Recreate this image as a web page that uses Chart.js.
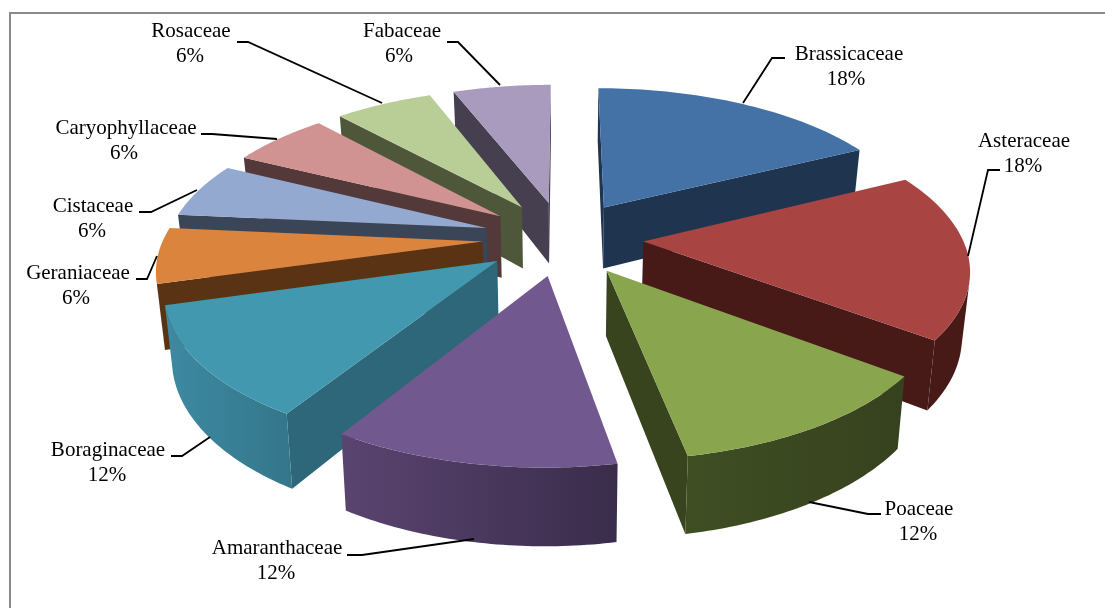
<!DOCTYPE html>
<html>
<head>
<meta charset="utf-8">
<style>
  html, body { margin: 0; padding: 0; background: #fff; }
  canvas { display: block; }
</style>
<script src="https://cdn.jsdelivr.net/npm/chart.js@4/dist/chart.umd.min.js"></script>
</head>
<body>
<canvas id="pieChart" width="1105" height="608"></canvas>
<script>
const families = ['Brassicaceae', 'Asteraceae', 'Poaceae', 'Amaranthaceae', 'Boraginaceae', 'Geraniaceae', 'Cistaceae', 'Caryophyllaceae', 'Rosaceae', 'Fabaceae'];
const counts = [3, 3, 2, 2, 2, 1, 1, 1, 1, 1];
const percents = ['18%', '18%', '12%', '12%', '12%', '6%', '6%', '6%', '6%', '6%'];

const topColors = ['#4472a7', '#a84543', '#89a54e', '#71588f', '#4198af', '#db843d', '#93a9cf', '#d19392', '#b9cd96', '#a99bbd'];
const sideColors = ['#1f344f', '#471a18', '#38441e', '#3f3052', '#2d6779', '#5a3315', '#3a4558', '#54393a', '#4f573b', '#453f50'];
const rimLight = ['#1f344f', '#471a18', '#3f4e23', '#5a4470', '#3d8aa2', '#5a3315', '#3a4558', '#54393a', '#4f573b', '#453f50'];
const rimDark = ['#1f344f', '#471a18', '#36421e', '#3a2c4b', '#34768a', '#5a3315', '#3a4558', '#54393a', '#4f573b', '#453f50'];

// text centre x for name and percent, name baseline y, then the leader line
const labelSpots = [
  { nameX: 849, pctX: 846, y: 60, line: [[785, 58], [772, 58], [743, 103]] },
  { nameX: 1024, pctX: 1023, y: 147, line: [[1000, 170], [988, 170], [968, 256]] },
  { nameX: 919, pctX: 918, y: 515, line: [[881, 514], [868, 514], [809, 502]] },
  { nameX: 277, pctX: 276, y: 554, line: [[347, 555], [362, 555], [474, 539]] },
  { nameX: 108, pctX: 107, y: 456, line: [[171, 456], [182, 456], [210, 437]] },
  { nameX: 78, pctX: 76, y: 279, line: [[136, 279], [147, 279], [157, 256]] },
  { nameX: 93, pctX: 92, y: 212, line: [[139, 212], [151, 212], [197, 190]] },
  { nameX: 126, pctX: 124, y: 134, line: [[201, 134], [212, 134], [277, 139]] },
  { nameX: 191, pctX: 190, y: 37, line: [[237, 42], [248, 42], [382, 103]] },
  { nameX: 402, pctX: 399, y: 37, line: [[447, 42], [458, 42], [500, 85]] }
];

// fake 3d view of the flat pie
const view = { cx: 563, cy: 238, radius: 319, squash: 0.4617, distance: 1994, depth: 63, shrink: 0.98 };

function project(u, v, isTop) {
  const s = view.distance / (view.distance - v);
  const xs = isTop ? s : s * view.shrink;
  return [view.cx + u * xs, view.cy + view.squash * v * s + (isTop ? 0 : view.depth * s)];
}

function polyArea(pts) {
  let a = 0;
  pts.forEach((p, i) => {
    const q = pts[(i + 1) % pts.length];
    a += p[0] * q[1] - q[0] * p[1];
  });
  return a / 2;
}

function fillPoly(ctx, pts, color) {
  ctx.beginPath();
  pts.forEach((p, i) => (i ? ctx.lineTo(p[0], p[1]) : ctx.moveTo(p[0], p[1])));
  ctx.closePath();
  ctx.fillStyle = color;
  ctx.fill();
}

class Arc3D extends Chart.ArcElement {
  static id = 'arc3d';

  draw(ctx) {
    const { startAngle, endAngle, outerRadius } = this.getProps(['startAngle', 'endAngle', 'outerRadius']);
    const scale = view.radius / outerRadius;
    const mid = (startAngle + endAngle) / 2;
    const ou = Math.cos(mid) * this.options.offset * scale;
    const ov = Math.sin(mid) * this.options.offset * scale;
    const i = this.$context.dataIndex;

    const rim = [];
    const steps = 48;
    for (let n = 0; n <= steps; n++) {
      const a = startAngle + (endAngle - startAngle) * n / steps;
      rim.push([ou + view.radius * Math.cos(a), ov + view.radius * Math.sin(a)]);
    }
    const apexTop = project(ou, ov, true);
    const apexBot = project(ou, ov, false);
    const rimTop = rim.map(p => project(p[0], p[1], true));
    const rimBot = rim.map(p => project(p[0], p[1], false));

    // cut faces, only the ones turned to the viewer
    const startFace = [apexTop, rimTop[0], rimBot[0], apexBot];
    const endFace = [apexTop, rimTop[steps], rimBot[steps], apexBot];
    if (polyArea(startFace) < 0) fillPoly(ctx, startFace, sideColors[i]);
    if (polyArea(endFace) > 0) fillPoly(ctx, endFace, sideColors[i]);

    // curved outside wall
    let from = -1, to = -1;
    for (let n = 0; n < steps; n++) {
      if (polyArea([rimTop[n], rimTop[n + 1], rimBot[n + 1], rimBot[n]]) < 0) {
        if (from < 0) from = n;
        to = n + 1;
      }
    }
    if (from >= 0) {
      const wall = rimTop.slice(from, to + 1).concat(rimBot.slice(from, to + 1).reverse());
      const xs = wall.map(p => p[0]);
      const grad = ctx.createLinearGradient(Math.min(...xs), 0, Math.max(...xs), 0);
      grad.addColorStop(0, rimLight[i]);
      grad.addColorStop(1, rimDark[i]);
      fillPoly(ctx, wall, grad);
    }

    fillPoly(ctx, [apexTop].concat(rimTop), topColors[i]);
  }
}

class Pie3D extends Chart.PieController {
  static id = 'pie3d';
  static defaults = { dataElementType: 'arc3d' };

  draw() {
    // back slices first so the front ones cover them
    const ctx = this.chart.ctx;
    const order = this.getMeta().data.slice().sort((a, b) => {
      const sa = Math.sin((a.startAngle + a.endAngle) / 2);
      const sb = Math.sin((b.startAngle + b.endAngle) / 2);
      return sa - sb;
    });
    order.forEach(arc => arc.draw(ctx));
  }
}

const framePlugin = {
  id: 'frame',
  beforeDraw(chart) {
    const ctx = chart.ctx;
    ctx.save();
    ctx.strokeStyle = '#8a8a8a';
    ctx.lineWidth = 2;
    ctx.beginPath();
    ctx.moveTo(10, 620);
    ctx.lineTo(10, 13);
    ctx.lineTo(1120, 13);
    ctx.stroke();
    ctx.restore();
  }
};

const labelPlugin = {
  id: 'familyLabels',
  afterDraw(chart) {
    const ctx = chart.ctx;
    ctx.save();
    ctx.font = '21px "Liberation Serif"';
    ctx.fillStyle = '#000';
    ctx.textAlign = 'center';
    ctx.strokeStyle = '#000';
    ctx.lineWidth = 1.8;
    families.forEach((name, i) => {
      const spot = labelSpots[i];
      ctx.fillText(name, spot.nameX, spot.y);
      ctx.fillText(percents[i], spot.pctX, spot.y + 25);
      ctx.beginPath();
      spot.line.forEach((p, n) => (n ? ctx.lineTo(p[0], p[1]) : ctx.moveTo(p[0], p[1])));
      ctx.stroke();
    });
    ctx.restore();
  }
};

Chart.register(Arc3D, Pie3D);

new Chart(document.getElementById('pieChart'), {
  type: 'pie3d',
  data: {
    labels: families,
    datasets: [{ data: counts, offset: 68, borderWidth: 0, backgroundColor: topColors }]
  },
  options: {
    responsive: false,
    animation: false,
    layout: { padding: 0 },
    plugins: { legend: { display: false }, tooltip: { enabled: false } }
  },
  plugins: [framePlugin, labelPlugin]
});
</script>
</body>
</html>
